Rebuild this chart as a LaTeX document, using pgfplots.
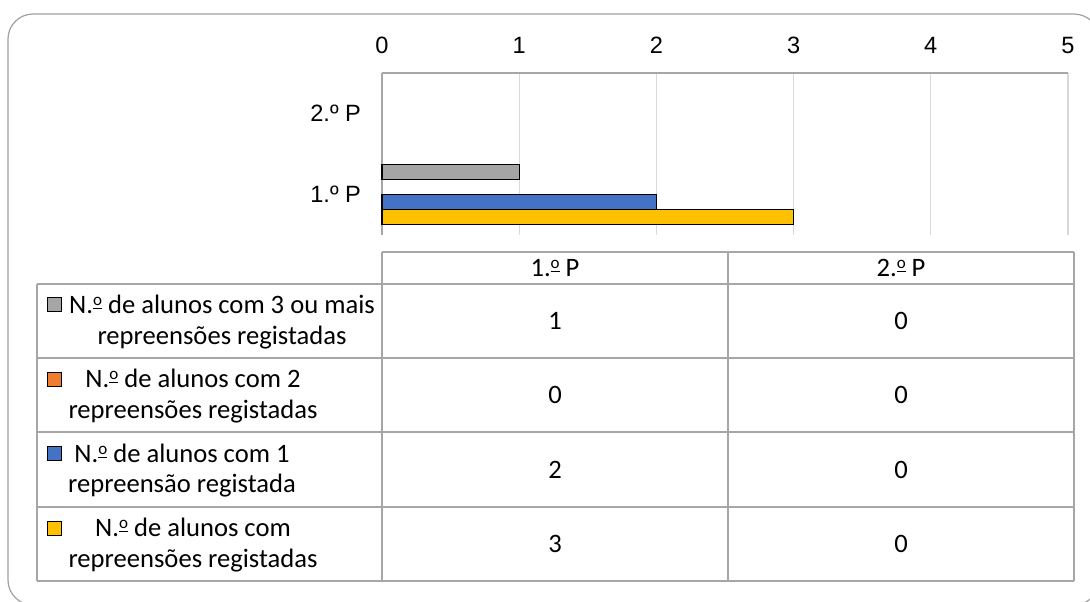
\documentclass[border=0pt]{standalone}
\usepackage{pgfplots}
\usepackage{pgfplotstable}
\pgfplotsset{compat=1.18}
\usepackage{fontspec}
\setmainfont{Carlito}
\newfontfamily\arialf{Liberation Sans}
\definecolor{cgray}{HTML}{A5A5A5}
\definecolor{corange}{HTML}{ED7D31}
\definecolor{cblue}{HTML}{4472C4}
\definecolor{cyellow}{HTML}{FFC000}
\definecolor{framec}{HTML}{A0A0A0}
\definecolor{tline}{HTML}{A6A6A6}
\definecolor{gridc}{HTML}{D9D9D9}
\newcommand{\om}{\raisebox{0.62ex}{\fontsize{8.5}{8.5}\selectfont\underline{o}}}

\pgfplotstableread{
p g3 g2 g1 g0
1 1 0 2 3
2 0 0 0 0
}\datatable

\begin{document}
\begin{tikzpicture}
\begin{scope}[x=0.5pt,y=-0.5pt]
\useasboundingbox (0,0) rectangle (1090,601);
\draw[framec, line width=0.6pt, rounded corners=12.5pt] (8,14) rectangle (1099,605);
\end{scope}
\begin{axis}[
  at={(191pt,-117.5pt)}, anchor=south west,
  width=343pt, height=81pt, scale only axis,
  xmin=0, xmax=5, ymin=0.5, ymax=2.5,
  xbar, bar width=7.5pt,
  axis x line*=top, axis y line*=left,
  axis line style={draw=tline, line width=0.6pt},
  xtick={0,1,2,3,4,5}, ytick={1,2}, yticklabels={1.º P,2.º P},
  major tick length=0pt,
  xmajorgrids, grid style={draw=gridc, line width=0.6pt},
  ticklabel style={font=\arialf\fontsize{11.8}{13}\selectfont},
  /pgf/number format/assume math mode=true,
  xticklabel style={yshift=6pt},
  yticklabel style={xshift=-7pt},
  clip=false,
]
\addplot[fill=cgray, draw=black, line width=0.65pt, bar shift=11.25pt, x filter/.expression={x==0 ? nan : x}] table[x=g3,y=p]{\datatable};
\addplot[fill=corange, draw=black, line width=0.65pt, bar shift=3.75pt, x filter/.expression={x==0 ? nan : x}] table[x=g2,y=p]{\datatable};
\addplot[fill=cblue, draw=black, line width=0.65pt, bar shift=-3.75pt, x filter/.expression={x==0 ? nan : x}] table[x=g1,y=p]{\datatable};
\addplot[fill=cyellow, draw=black, line width=0.65pt, bar shift=-11.25pt, x filter/.expression={x==0 ? nan : x}] table[x=g0,y=p]{\datatable};
\end{axis}
\begin{scope}[x=0.5pt,y=-0.5pt, every node/.style={inner sep=0pt, anchor=base, font=\fontsize{13.3}{16}\selectfont}]
\draw[tline, line width=0.6pt]
  (382,252)--(1074,252)
  (37,284)--(1074,284)
  (37,358)--(1074,358)
  (37,432)--(1074,432)
  (37,507)--(1074,507)
  (37,581)--(1074,581)
  (37,284)--(37,581)
  (382,252)--(382,581)
  (728,252)--(728,581)
  (1074,252)--(1074,581);
\node at (555,276) {1.\om\ P};
\node at (901,276) {2.\om\ P};
% values
\node at (555,329) {1}; \node at (901,329) {0};
\node at (555,403) {0}; \node at (901,403) {0};
\node at (555,478) {2}; \node at (901,478) {0};
\node at (555,552) {3}; \node at (901,552) {0};
% keys
\filldraw[fill=cgray, draw=black, line width=0.5pt] (47,297) rectangle (61,311);
\filldraw[fill=corange, draw=black, line width=0.5pt] (47,372) rectangle (61,386);
\filldraw[fill=cblue, draw=black, line width=0.5pt] (47,446) rectangle (61,460);
\filldraw[fill=cyellow, draw=black, line width=0.5pt] (47,521) rectangle (61,535);
% labels
\node at (222,313) {N.\om\ de alunos com 3 ou mais};
\node at (222,344) {repreensões registadas};
\node at (193,387) {N.\om\ de alunos com 2};
\node at (193,418) {repreensões registadas};
\node at (182,462) {N.\om\ de alunos com 1};
\node at (182,492) {repreensão registada};
\node at (193,536) {N.\om\ de alunos com};
\node at (193,567) {repreensões registadas};
\end{scope}
\end{tikzpicture}
\end{document}
